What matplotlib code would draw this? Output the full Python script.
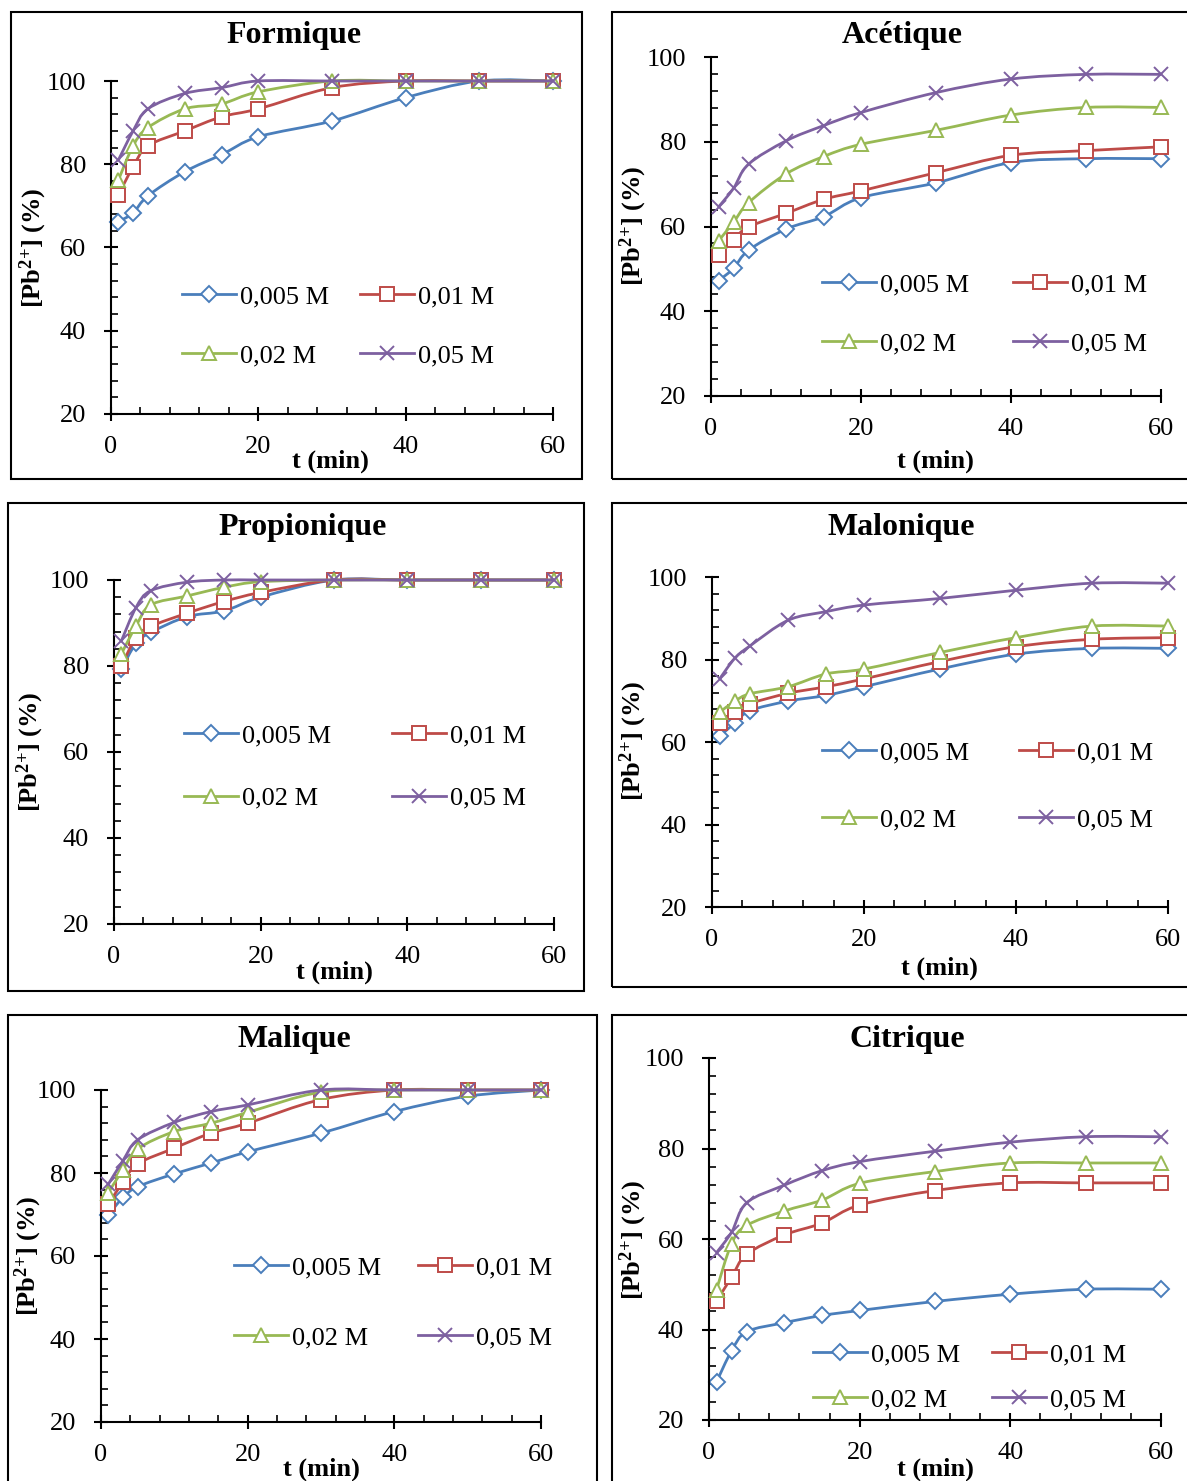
import matplotlib
matplotlib.use("Agg")
import matplotlib.pyplot as plt
from matplotlib.path import Path
from matplotlib.patches import PathPatch, Rectangle
from matplotlib.lines import Line2D
from matplotlib.ticker import MultipleLocator

plt.rcParams["font.family"] = "Liberation Serif"
plt.rcParams["mathtext.fontset"] = "custom"
plt.rcParams["mathtext.rm"] = "Liberation Serif"
plt.rcParams["mathtext.bf"] = "Liberation Serif:bold"
plt.rcParams["mathtext.it"] = "Liberation Serif:italic"

W, H = 1187, 1481

# sampling times (min)
t = [1, 3, 5, 10, 15, 20, 30, 40, 50, 60]
labels = ["0,005 M", "0,01 M", "0,02 M", "0,05 M"]

# [Pb2+] (%) for each acid concentration
formique = [
    [66.2, 68.3, 72.4, 78.2, 82.3, 86.6, 90.4, 96.0, 100, 100],
    [72.6, 79.4, 84.4, 88.0, 91.4, 93.3, 98.4, 100, 100, 100],
    [76.2, 84.4, 88.8, 93.3, 94.5, 97.4, 100, 100, 100, 100],
    [81.0, 88.0, 93.3, 97.0, 98.4, 100, 100, 100, 100, 100],
]
acetique = [
    [47.2, 50.1, 54.4, 59.4, 62.3, 66.8, 70.3, 75.1, 76.0, 76.0],
    [53.3, 56.9, 59.9, 63.1, 66.4, 68.4, 72.7, 76.8, 77.9, 78.8],
    [56.6, 61.0, 65.6, 72.4, 76.5, 79.4, 82.7, 86.3, 88.1, 88.1],
    [64.6, 69.0, 74.7, 80.2, 83.8, 86.9, 91.6, 94.8, 95.9, 95.9],
]
propionique = [
    [79.2, 85.3, 87.8, 91.5, 92.8, 96.0, 100, 100, 100, 100],
    [80.0, 86.6, 89.2, 92.3, 95.0, 97.1, 100, 100, 100, 100],
    [82.8, 89.3, 94.2, 96.3, 98.3, 99.6, 100, 100, 100, 100],
    [85.8, 93.6, 97.5, 99.5, 100, 100, 100, 100, 100, 100],
]
malonique = [
    [61.4, 64.6, 67.6, 69.9, 71.3, 73.4, 77.7, 81.3, 82.7, 82.7],
    [64.6, 67.2, 69.3, 71.8, 73.4, 75.3, 79.5, 83.1, 84.9, 85.3],
    [67.2, 69.9, 71.7, 73.4, 76.5, 77.7, 81.7, 85.3, 88.1, 88.1],
    [75.3, 80.3, 83.3, 89.5, 91.6, 93.2, 94.8, 96.8, 98.5, 98.5],
]
malique = [
    [69.9, 74.1, 76.7, 79.8, 82.4, 85.1, 89.6, 94.8, 98.5, 100],
    [72.5, 77.8, 82.2, 86.0, 89.6, 92.0, 97.7, 100, 100, 100],
    [75.3, 80.8, 85.8, 90.0, 92.0, 94.6, 99.5, 100, 100, 100],
    [77.3, 83.0, 88.0, 92.2, 94.8, 96.4, 100, 100, 100, 100],
]
citrique = [
    [28.4, 35.3, 39.5, 41.5, 43.1, 44.2, 46.2, 47.8, 48.9, 48.9],
    [46.2, 51.6, 56.6, 60.9, 63.5, 67.5, 70.7, 72.4, 72.4, 72.4],
    [48.8, 59.0, 63.0, 66.2, 68.6, 72.3, 74.9, 76.8, 76.8, 76.8],
    [57.0, 61.5, 68.0, 71.9, 75.1, 77.1, 79.4, 81.4, 82.6, 82.6],
]

colors = ["#4A7EBB", "#BE4B48", "#98B954", "#7D60A0"]
markers = ["D", "s", "^", "x"]
msizes = [8, 10, 9.5, 10]

# layout in pixels: box, plot area (x0, x60, y100, y20), title, xlabel, ylabel,
# legend anchor (left, top), columnspacing, labelspacing
panels = [
    ("Formique", formique, (11, 12, 582, 479), (111, 553, 81, 414), (294, 35),
     (330, 461), (33, 248), (182, 285), 1.15, 1.33),
    ("Acétique", acetique, (612, 12, 1192, 479), (711, 1161, 57, 396), (902, 35),
     (935, 461), (633, 226), (822, 273), 1.67, 1.33),
    ("Propionique", propionique, (8, 503, 584, 991), (114, 554, 580, 924), (303, 528),
     (334, 972), (30, 752), (184, 724), 2.3, 1.47),
    ("Malonique", malonique, (612, 503, 1192, 987), (712, 1168, 577, 907), (901, 528),
     (939, 968), (633, 741), (822, 741), 1.9, 1.63),
    ("Malique", malique, (8, 1015, 597, 1490), (101, 541, 1090, 1422), (294, 1040),
     (321, 1469), (28, 1256), (234, 1256), 1.4, 1.77),
    ("Citrique", citrique, (612, 1015, 1192, 1490), (709, 1161, 1058, 1420), (907, 1040),
     (935, 1469), (633, 1240), (813, 1343), 1.2, 0.8),
]


def smooth_path(x, y):
    # cubic bezier through the points, like a spreadsheet "smoothed line"
    pts = list(zip(x, y))
    n = len(pts)
    verts = [pts[0]]
    codes = [Path.MOVETO]
    for i in range(n - 1):
        p0 = pts[i - 1] if i > 0 else pts[i]
        p1 = pts[i]
        p2 = pts[i + 1]
        p3 = pts[i + 2] if i + 2 < n else pts[i + 1]
        c1 = (p1[0] + (p2[0] - p0[0]) / 6, p1[1] + (p2[1] - p0[1]) / 6)
        c2 = (p2[0] - (p3[0] - p1[0]) / 6, p2[1] - (p3[1] - p1[1]) / 6)
        verts += [c1, c2, p2]
        codes += [Path.CURVE4] * 3
    return Path(verts, codes)


def fx(px):
    return px / W


def fy(py):
    return 1 - py / H


fig = plt.figure(figsize=(W / 100, H / 100), dpi=100)

for (name, series, box, area, tpos, xlpos, ylpos, legpos, colsp, labsp) in panels:
    bx0, by0, bx1, by1 = box
    fig.patches.append(Rectangle((fx(bx0), fy(by1)), fx(bx1 - bx0), (by1 - by0) / H,
                                 transform=fig.transFigure, fill=False,
                                 edgecolor="black", linewidth=1.5, zorder=0))

    x0, x1, ytop, ybot = area
    ax = fig.add_axes([fx(x0), fy(ybot), (x1 - x0) / W, (ybot - ytop) / H])
    ax.patch.set_alpha(0)
    ax.set_xlim(0, 60)
    ax.set_ylim(20, 100)
    ax.set_xticks([0, 20, 40, 60])
    ax.set_yticks([20, 40, 60, 80, 100])
    ax.xaxis.set_minor_locator(MultipleLocator(4))
    ax.yaxis.set_minor_locator(MultipleLocator(4))
    ax.spines["top"].set_visible(False)
    ax.spines["right"].set_visible(False)
    for s in ("left", "bottom"):
        ax.spines[s].set_linewidth(1.5)
    ax.tick_params(which="major", direction="inout", length=10, width=1.5, labelsize=19)
    ax.tick_params(which="minor", direction="in", length=5, width=1.2)
    ax.tick_params(axis="y", which="major", pad=13)
    ax.tick_params(axis="x", which="major", pad=11)

    handles = []
    for k, vals in enumerate(series):
        face = "white" if markers[k] != "x" else colors[k]
        ax.add_patch(PathPatch(smooth_path(t, vals), fill=False, edgecolor=colors[k],
                               linewidth=2, clip_on=False, zorder=2 + k))
        ax.plot(t, vals, linestyle="none", marker=markers[k], markersize=msizes[k],
                markerfacecolor=face, markeredgecolor=colors[k], markeredgewidth=1.4,
                clip_on=False, zorder=2 + k)
        handles.append(Line2D([], [], color=colors[k], linewidth=2, marker=markers[k],
                              markersize=msizes[k], markeredgewidth=1.4,
                              markerfacecolor=face, markeredgecolor=colors[k]))

    order = [0, 2, 1, 3]
    ax.legend([handles[i] for i in order], [labels[i] for i in order], ncol=2,
              loc="upper left", bbox_to_anchor=(fx(legpos[0]), fy(legpos[1])),
              bbox_transform=fig.transFigure, frameon=False, fontsize=19,
              borderpad=0, borderaxespad=0, handlelength=2.05, handletextpad=0.15,
              columnspacing=colsp, labelspacing=labsp)

    fig.text(fx(tpos[0]), fy(tpos[1]), name, ha="center", va="center",
             fontsize=23, fontweight="bold")
    fig.text(fx(xlpos[0]), fy(xlpos[1]), "t (min)", ha="center", va="center",
             fontsize=19, fontweight="bold")
    fig.text(fx(ylpos[0]), fy(ylpos[1]), r"$\mathbf{[Pb^{2{+}}]}$ (%)", ha="center",
             va="center", rotation=90, fontsize=19, fontweight="bold")

fig.savefig("out.png", dpi=100)
